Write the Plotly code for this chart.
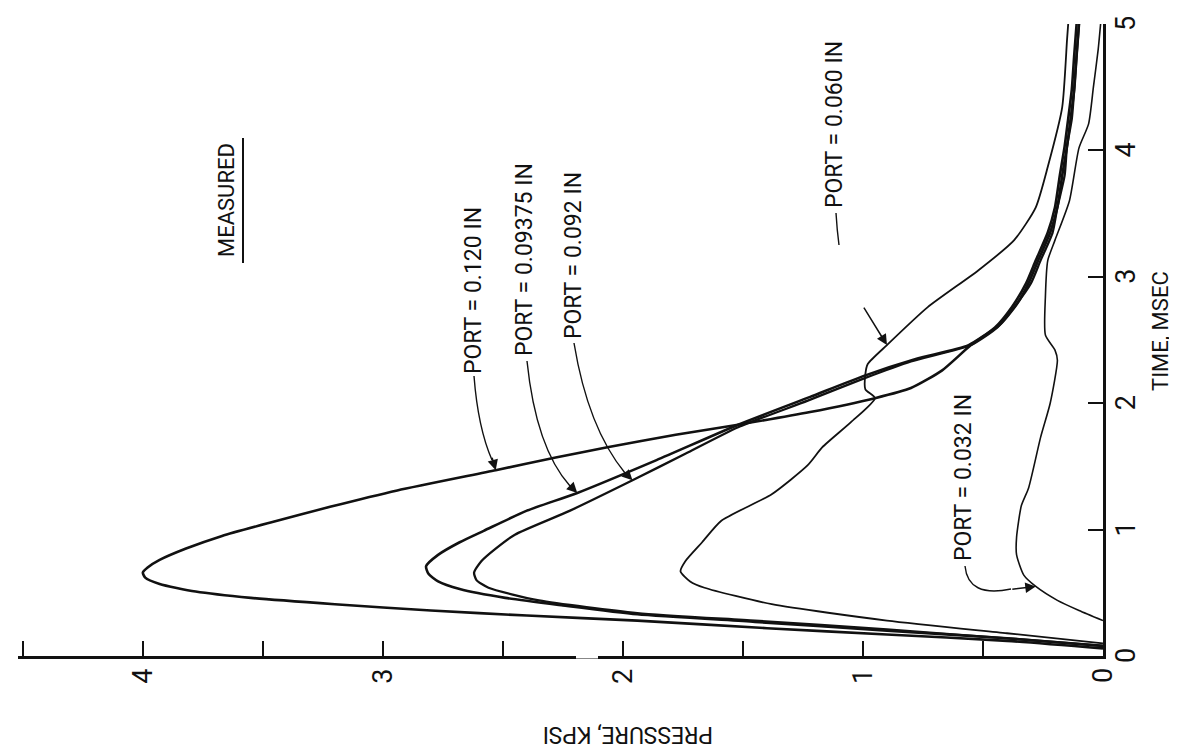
import plotly.graph_objects as go

# ---------------- data (time in msec, pressure in kpsi) ----------------
t_120 = [0.06, 0.12, 0.17, 0.22, 0.28, 0.32, 0.36, 0.41, 0.46, 0.51, 0.57, 0.62, 0.66, 0.70, 0.76, 0.85, 0.95, 1.06, 1.18, 1.31, 1.47, 1.57, 1.65, 1.75, 1.83, 1.93, 2.04, 2.12, 2.26, 2.46, 2.62, 2.78, 2.95, 3.13, 3.35, 3.55, 3.80, 4.03, 4.25, 4.48, 4.75, 5.00]
p_120 = [0.00, 0.40, 0.90, 1.40, 1.94, 2.40, 2.80, 3.20, 3.55, 3.78, 3.93, 3.99, 4.00, 3.98, 3.93, 3.82, 3.67, 3.46, 3.22, 2.94, 2.53, 2.28, 2.07, 1.78, 1.52, 1.22, 0.95, 0.80, 0.67, 0.55, 0.43, 0.36, 0.31, 0.27, 0.22, 0.19, 0.17, 0.15, 0.135, 0.12, 0.11, 0.10]

t_09375 = [0.08, 0.14, 0.20, 0.27, 0.33, 0.40, 0.46, 0.53, 0.59, 0.65, 0.71, 0.80, 0.90, 0.99, 1.15, 1.29, 1.55, 1.83, 2.05, 2.22, 2.35, 2.46, 2.60, 2.76, 2.95, 3.13, 3.35, 3.55, 3.80, 4.03, 4.25, 4.48, 4.75, 5.00]
p_09375 = [0.00, 0.40, 0.90, 1.45, 1.94, 2.25, 2.49, 2.68, 2.77, 2.81, 2.82, 2.77, 2.68, 2.58, 2.40, 2.19, 1.86, 1.52, 1.22, 0.99, 0.78, 0.56, 0.45, 0.38, 0.32, 0.28, 0.23, 0.20, 0.18, 0.16, 0.145, 0.13, 0.12, 0.11]

t_092 = [0.08, 0.14, 0.21, 0.28, 0.34, 0.44, 0.54, 0.60, 0.66, 0.75, 0.85, 0.96, 1.15, 1.39, 1.60, 1.81, 2.02, 2.20, 2.33, 2.46, 2.60, 2.76, 2.95, 3.13, 3.35, 3.55, 3.80, 4.03, 4.25, 4.48, 4.75, 5.00]
p_092 = [0.00, 0.40, 0.90, 1.45, 1.94, 2.35, 2.56, 2.61, 2.62, 2.59, 2.53, 2.45, 2.22, 1.96, 1.74, 1.52, 1.23, 0.99, 0.80, 0.55, 0.44, 0.37, 0.30, 0.26, 0.21, 0.19, 0.16, 0.15, 0.13, 0.12, 0.11, 0.10]

t_060 = [0.10, 0.18, 0.28, 0.41, 0.54, 0.59, 0.67, 0.75, 0.90, 1.07, 1.28, 1.51, 1.65, 1.85, 2.04, 2.11, 2.23, 2.31, 2.46, 2.76, 3.05, 3.29, 3.55, 3.87, 4.34, 4.87, 5.00]
p_060 = [0.00, 0.40, 0.90, 1.38, 1.66, 1.72, 1.76, 1.74, 1.67, 1.59, 1.38, 1.23, 1.17, 1.05, 0.95, 0.99, 0.99, 0.98, 0.90, 0.73, 0.52, 0.37, 0.28, 0.23, 0.17, 0.15, 0.145]

t_032 = [0.28, 0.36, 0.44, 0.55, 0.64, 0.80, 0.94, 1.19, 1.33, 1.73, 2.00, 2.34, 2.42, 2.54, 2.84, 3.13, 3.29, 3.60, 4.02, 4.21, 4.50, 4.80, 5.00]
p_032 = [0.00, 0.10, 0.19, 0.28, 0.33, 0.36, 0.36, 0.34, 0.31, 0.26, 0.22, 0.19, 0.20, 0.24, 0.24, 0.23, 0.20, 0.14, 0.10, 0.06, 0.04, 0.02, 0.01]

series_names = ["PORT = 0.120 IN", "PORT = 0.09375 IN", "PORT = 0.092 IN", "PORT = 0.060 IN", "PORT = 0.032 IN"]
series_t = [t_120, t_09375, t_092, t_060, t_032]
series_p = [p_120, p_09375, p_092, p_060, p_032]
series_w = [2.6, 2.6, 2.3, 1.8, 1.6]

pressure_ticks = [0, 0.5, 1, 1.5, 2, 2.5, 3, 3.5, 4, 4.5]
pressure_labels = ["0", "1", "2", "3", "4"]
time_ticks = [0, 1, 2, 3, 4, 5]
time_labels = ["0", "1", "2", "3", "4", "5"]

# ---------------- layout geometry (pixels) ----------------
W, H = 1177, 755
L, R, T, B = 10, 1095, 16, 648      # plot area edges in pixels
P_LEFT = 4.52                          # pressure at left edge


def pxx(x):
    return (x - L) / (R - L)


def pxy(y):
    return (B - y) / (B - T)


FONT = "Roboto, Liberation Sans, Arial, sans-serif"
INK = "#111111"

fig = go.Figure()
for name, tt, pp, w in zip(series_names, series_t, series_p, series_w):
    fig.add_trace(go.Scatter(x=pp, y=tt, mode="lines", name=name,
                             line=dict(color=INK, width=w, shape="spline", smoothing=0.6),
                             showlegend=False, hoverinfo="skip"))

annotations = []
shapes = []


def label(x, y, text, size, angle=-90, xref="paper", yref="paper"):
    annotations.append(dict(x=x, xref=xref, y=y, yref=yref, text=text, showarrow=False,
                            textangle=angle, xanchor="center", yanchor="middle",
                            font=dict(size=size, family=FONT, color=INK)))


# pressure tick labels
for v in pressure_labels:
    label(float(v), pxy(668), v, 27, xref="x")
# time tick labels
for v in time_labels:
    label(pxx(1118), float(v), v, 27, yref="y")

# axis titles
label(pxx(1152), pxy(323), "TIME, MSEC", 22)
label(pxx(620), pxy(727), "PRESSURE, KPSI", 23, angle=180)

# MEASURED
label(pxx(218), pxy(192), "MEASURED", 22)
shapes.append(dict(type="line", xref="paper", yref="paper", x0=pxx(235), x1=pxx(235),
                   y0=pxy(130), y1=pxy(255), line=dict(color=INK, width=2)))

# series labels (rotated)
label_pos = [(465, 283), (516, 252), (566, 248), (827, 117), (955, 470)]
for name, (lx, ly) in zip(series_names, label_pos):
    label(pxx(lx), pxy(ly), name, 23)

# leader curves (pixel control points)
leaders = [((466, 368), (470, 420), (484, 452)),
           ((519, 353), (528, 440), (562, 478)),
           ((566, 335), (580, 420), (617, 465)),
           ((828, 205), (829, 222), (831, 237)),
           ((957, 558), (960, 590), (1003, 581))]
for (a, c, e) in leaders:
    path = "M {:.5f},{:.5f} Q {:.5f},{:.5f} {:.5f},{:.5f}".format(pxx(a[0]), pxy(a[1]), pxx(c[0]), pxy(c[1]), pxx(e[0]), pxy(e[1]))
    shapes.append(dict(type="path", xref="paper", yref="paper", path=path,
                       line=dict(color=INK, width=1.4)))

# arrowheads onto the curves (head at a data point on each curve)
heads = [(p_120[20], t_120[20], -4, -14),
         (p_09375[15], t_09375[15], -9, -9),
         (p_092[13], t_092[13], -9, -9),
         (p_060[18], t_060[18], -24, -39),
         (0.28, 0.55, -25, 3)]
for (hp, ht, ax, ay) in heads:
    annotations.append(dict(x=hp, xref="x", y=ht, yref="y", ax=ax, ay=ay, text="",
                            showarrow=True, arrowhead=2, arrowsize=1.4, arrowwidth=1.5,
                            arrowcolor=INK))

# small gap in the pressure axis line
shapes.append(dict(type="line", xref="paper", yref="paper", x0=pxx(568), x1=pxx(590),
                   y0=0, y1=0, line=dict(color="white", width=5), layer="above"))

fig.update_layout(
    width=W, height=H,
    margin=dict(l=L, r=W - R, t=T, b=H - B, pad=0),
    paper_bgcolor="white", plot_bgcolor="white",
    xaxis=dict(range=[P_LEFT, 0], showgrid=False, zeroline=False, showline=True,
               linecolor=INK, linewidth=3, ticks="inside", ticklen=15, tickwidth=2,
               tickcolor=INK, tickvals=pressure_ticks, showticklabels=False),
    yaxis=dict(range=[0, 5], side="right", showgrid=False, zeroline=False, showline=True,
               linecolor=INK, linewidth=3, ticks="inside", ticklen=15, tickwidth=2,
               tickcolor=INK, tickvals=time_ticks, showticklabels=False),
    annotations=annotations, shapes=shapes,
)

fig.write_html("out.html")
